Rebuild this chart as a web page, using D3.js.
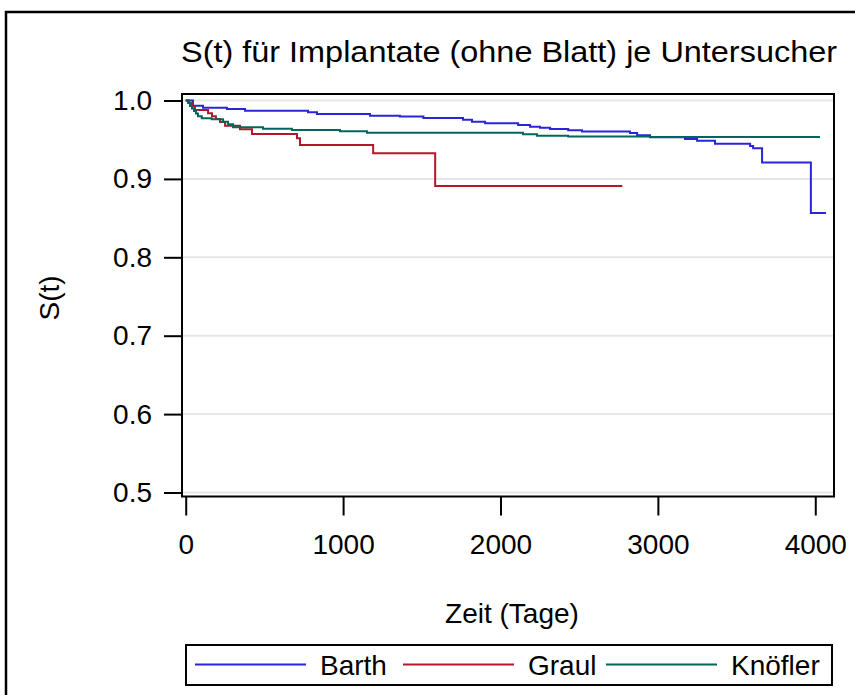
<!DOCTYPE html>
<html>
<head>
<meta charset="utf-8">
<script src="https://cdn.jsdelivr.net/npm/d3@7"></script>
<style>
  body { margin: 0; background: #fff; }
  svg { display: block; font-family: "Liberation Sans", Arial, sans-serif; }
</style>
</head>
<body>
<svg width="855" height="695"></svg>
<script>
// Kaplan-Meier step curves (time in days, S(t) after each step)
const barthT = [0, 46, 110, 262, 377, 777, 834, 1171, 1361, 1510, 1762, 1819, 1902, 2112, 2188, 2251, 2315, 2430, 2518, 2823, 2868, 2950, 3172, 3249, 3363, 3586, 3605, 3662, 3972, 4068];
const barthS = [1, 0.9934, 0.9908, 0.9892, 0.987, 0.985, 0.9828, 0.9806, 0.9796, 0.9777, 0.9755, 0.973, 0.971, 0.9688, 0.9666, 0.9653, 0.9636, 0.962, 0.9605, 0.9585, 0.9556, 0.953, 0.951, 0.9487, 0.945, 0.942, 0.939, 0.921, 0.8565, 0.8565];

const graulT = [0, 21, 40, 59, 142, 167, 192, 218, 250, 345, 421, 707, 726, 1191, 1585, 2774];
const graulS = [1, 0.9968, 0.9923, 0.9879, 0.9837, 0.980, 0.9764, 0.9726, 0.9679, 0.9633, 0.9573, 0.9518, 0.9432, 0.9327, 0.8909, 0.8909];

const knoeflerT = [0, 15, 27, 40, 53, 65, 78, 102, 165, 237, 269, 301, 491, 675, 980, 1152, 2143, 2232, 2430, 2950, 4030];
const knoeflerS = [1, 0.9968, 0.993, 0.9898, 0.9866, 0.9834, 0.980, 0.9773, 0.976, 0.973, 0.9696, 0.9658, 0.964, 0.9624, 0.9607, 0.9589, 0.9569, 0.955, 0.954, 0.9534, 0.9534];

const groups = ["Barth", "Graul", "Knöfler"];
const colors = ["#2A25D9", "#B2182B", "#01665E"];
const xTicks = [0, 1000, 2000, 3000, 4000];
const yTicks = [0.5, 0.6, 0.7, 0.8, 0.9, 1.0];

const series = [
  {name: groups[0], t: barthT, s: barthS},
  {name: groups[1], t: graulT, s: graulS},
  {name: groups[2], t: knoeflerT, s: knoeflerS}
];

const svg = d3.select("svg");
const plot = {left: 182, right: 834, top: 94, bottom: 496.5};

const x = d3.scaleLinear().domain([-23.6, 4119]).range([plot.left, plot.right]);
const y = d3.scaleLinear().domain([0.4949, 1.0083]).range([plot.bottom, plot.top]);
const color = d3.scaleOrdinal().domain(groups).range(colors);

// outer frame
svg.append("rect")
  .attr("x", 6).attr("y", 12).attr("width", 870).attr("height", 720)
  .attr("fill", "none").attr("stroke", "#000").attr("stroke-width", 2.5);

// title
svg.append("text")
  .attr("x", 509).attr("y", 62)
  .attr("text-anchor", "middle")
  .attr("font-size", 29)
  .attr("textLength", 656).attr("lengthAdjust", "spacingAndGlyphs")
  .text("S(t) für Implantate (ohne Blatt) je Untersucher");

// gridlines
svg.append("g")
  .selectAll("line")
  .data(yTicks)
  .join("line")
    .attr("x1", plot.left).attr("x2", plot.right)
    .attr("y1", d => y(d)).attr("y2", d => y(d))
    .attr("stroke", "#e6e6e6").attr("stroke-width", 2);

// y axis
const yAxis = svg.append("g")
  .attr("transform", `translate(${plot.left},0)`)
  .call(d3.axisLeft(y).tickValues(yTicks).tickFormat(d3.format(".1f")).tickSize(18).tickPadding(12));
yAxis.select(".domain").remove();
yAxis.selectAll(".tick line").attr("stroke", "#000").attr("stroke-width", 2);
yAxis.selectAll(".tick text")
  .attr("font-size", 28).attr("font-family", "Liberation Sans, Arial, sans-serif")
  .attr("fill", "#000");

// x axis
const xAxis = svg.append("g")
  .attr("transform", `translate(0,${plot.bottom})`)
  .call(d3.axisBottom(x).tickValues(xTicks).tickFormat(d3.format("d")).tickSize(19).tickPadding(19));
xAxis.select(".domain").remove();
xAxis.selectAll(".tick line").attr("stroke", "#000").attr("stroke-width", 2);
xAxis.selectAll(".tick text")
  .attr("font-size", 28).attr("font-family", "Liberation Sans, Arial, sans-serif")
  .attr("fill", "#000");

// curves
const line = d3.line()
  .x(d => x(d[0]))
  .y(d => y(d[1]))
  .curve(d3.curveStepAfter);

svg.append("g")
  .selectAll("path")
  .data(series)
  .join("path")
    .attr("d", d => line(d3.zip(d.t, d.s)))
    .attr("fill", "none")
    .attr("stroke", d => color(d.name))
    .attr("stroke-width", 2);

// plot frame
svg.append("rect")
  .attr("x", plot.left).attr("y", plot.top)
  .attr("width", plot.right - plot.left).attr("height", plot.bottom - plot.top)
  .attr("fill", "none").attr("stroke", "#000").attr("stroke-width", 2);

// axis labels
svg.append("text")
  .attr("x", 512).attr("y", 623)
  .attr("text-anchor", "middle").attr("font-size", 28)
  .text("Zeit (Tage)");

svg.append("text")
  .attr("transform", "translate(59,298) rotate(-90)")
  .attr("text-anchor", "middle").attr("font-size", 28)
  .text("S(t)");

// legend
const legend = svg.append("g");
legend.append("rect")
  .attr("x", 186).attr("y", 645).attr("width", 646).attr("height", 40)
  .attr("fill", "none").attr("stroke", "#000").attr("stroke-width", 2);

const legendX = [195, 403, 606];
const items = legend.selectAll("g.item")
  .data(groups)
  .join("g")
    .attr("class", "item")
    .attr("transform", (d, i) => `translate(${legendX[i]},664.5)`);
items.append("line")
  .attr("x1", 0).attr("x2", 111)
  .attr("stroke", d => color(d)).attr("stroke-width", 2);
items.append("text")
  .attr("x", 125).attr("y", 10.5)
  .attr("font-size", 28)
  .text(d => d);
</script>
</body>
</html>
